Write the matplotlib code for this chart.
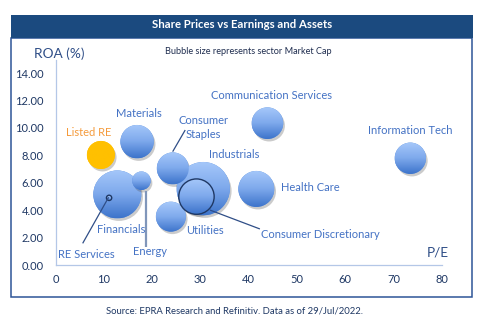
import numpy as np
import matplotlib
matplotlib.use("Agg")
import matplotlib.pyplot as plt
from matplotlib.patches import Ellipse, Rectangle
from matplotlib import patheffects as pe
from matplotlib.colors import LinearSegmentedColormap

# Sector data: P/E ratio, return on assets (%) and market cap (bubble area)
sectors = ["Listed RE", "Materials", "Consumer Staples", "Industrials",
           "Consumer Discretionary", "Financials", "RE Services", "Energy",
           "Utilities", "Health Care", "Communication Services", "Information Tech"]
pe_ratio = [9.4, 16.9, 24.3, 30.6, 29.2, 12.8, 11.1, 17.8, 23.9, 41.6, 43.9, 73.5]
roa = [8.03, 9.0, 7.05, 5.57, 4.99, 5.15, 4.9, 6.15, 3.53, 5.55, 10.35, 7.79]
market_cap = [196, 279, 256, 713, 313, 576, 7, 86, 225, 324, 250, 246]

x_ticks = [0, 10, 20, 30, 40, 50, 60, 70, 80]
y_ticks = [0, 2, 4, 6, 8, 10, 12, 14]

# Label anchor positions (data coordinates) and alignment
label_pos = {
    "Listed RE": (6.94, 9.66, "center"),
    "Materials": (17.3, 11.07, "center"),
    "Consumer Staples": (30.7, 10.04, "center"),
    "Industrials": (37.06, 8.08, "center"),
    "Consumer Discretionary": (42.5, 2.26, "left"),
    "Financials": (13.6, 2.61, "center"),
    "RE Services": (6.3, 0.8, "center"),
    "Energy": (19.57, 0.95, "center"),
    "Utilities": (31.05, 2.5, "center"),
    "Health Care": (46.75, 5.67, "left"),
    "Communication Services": (44.8, 12.34, "center"),
    "Information Tech": (73.46, 9.78, "center"),
}
label_text = {"Consumer Staples": "Consumer\nStaples"}

# Leader lines from bubble to label
leaders = {
    "RE Services": ((11.0, 4.94), (5.63, 1.58)),
    "Energy": ((18.67, 5.42), (18.67, 1.34)),
    "Consumer Staples": ((24.27, 8.27), (26.87, 9.85)),
    "Consumer Discretionary": ((31.99, 4.01), (42.34, 2.63)),
}

W, H, DPI = 483, 326, 100
fig = plt.figure(figsize=(W / DPI, H / DPI), dpi=DPI)
fig.patch.set_facecolor("white")

font = ["Lato", "DejaVu Sans"]
navy = "#1F3864"
label_blue = "#4472C4"

# Outer frame and header band
fig.patches.append(Rectangle((11 / W, 1 - 297 / H), 461 / W, (297 - 38) / H,
                             transform=fig.transFigure, fill=False,
                             edgecolor="#2E5597", linewidth=1.1))
fig.patches.append(Rectangle((11 / W, 1 - 38 / H), 462 / W, 23 / H,
                             transform=fig.transFigure, facecolor="#1B4A7F",
                             edgecolor="none"))
fig.text(241.7 / W, 1 - 25 / H, "Share Prices vs Earnings and Assets",
         ha="center", va="center", color="white", fontsize=8.2,
         fontweight="bold", family=font)
fig.text(248.7 / W, 1 - 51 / H, "Bubble size represents sector Market Cap",
         ha="center", va="center", color="#1F2D4F", fontsize=6.6, family=font)
fig.text(234 / W, 1 - 311.5 / H,
         "Source: EPRA Research and Refinitiv. Data as of 29/Jul/2022.",
         ha="center", va="center", color=navy, fontsize=6.8, family=font)

ax = fig.add_axes([55.5 / W, 1 - 265 / H, (441.7 - 55.5) / W, (265 - 60) / H])
ax.set_facecolor("none")
XMAX, YMAX = 80, 14.96
ax.set_xlim(0, XMAX)
ax.set_ylim(0, YMAX)

for s in ["top", "right"]:
    ax.spines[s].set_visible(False)
for s in ["left", "bottom"]:
    ax.spines[s].set_color("#B4C7E7")
    ax.spines[s].set_linewidth(0.9)

ax.set_xticks(x_ticks)
ax.set_yticks(y_ticks)
ax.set_xticklabels([str(v) for v in x_ticks], family=font, fontsize=8, color=navy)
ax.set_yticklabels([f"{v:.2f}" for v in y_ticks], family=font, fontsize=8, color=navy)
ax.tick_params(axis="x", length=0, pad=6.5)
ax.tick_params(axis="y", length=0, pad=8.5)

fig.text(59.5 / W, 1 - 53.5 / H, "ROA (%)", ha="center", va="center",
         color="#2F4E87", fontsize=9.8, family=font)
fig.text(437.3 / W, 1 - 252.3 / H, "P/E", ha="center", va="center",
         color="#2F4E87", fontsize=9.8, family=font)

# Pixel scale of the data axes
fig.canvas.draw()
p0 = ax.transData.transform((0, 0))
px_x = ax.transData.transform((1, 0))[0] - p0[0]
px_y = ax.transData.transform((0, 1))[1] - p0[1]

blue_cmap = LinearSegmentedColormap.from_list("bubble", ["#A6C8FA", "#7EA9EC", "#3D74CB"])
gold_cmap = LinearSegmentedColormap.from_list("gold", ["#FFC000", "#FFC000"])
grad = np.linspace(0, 1, 128).reshape(-1, 1)

order = np.argsort(market_cap)[::-1]
for i in order:
    name = sectors[i]
    x, y, cap = pe_ratio[i], roa[i], market_cap[i]
    r_px = np.sqrt(cap) * DPI / 100.0
    w, h = 2 * r_px / px_x, 2 * r_px / px_y
    edge = "none"
    if name in ("Consumer Discretionary", "RE Services"):
        edge = "#1F3864"
    base = Ellipse((x, y), w, h, facecolor="#5B8FDC" if name != "Listed RE" else "#FFC000",
                   edgecolor="none", zorder=2 + (0 if cap > 100 else 2))
    if name != "RE Services":
        base.set_path_effects([pe.SimplePatchShadow(offset=(1.2, -1.8),
                                                    shadow_rgbFace="#555555", alpha=0.3),
                               pe.Normal()])
    ax.add_patch(base)
    cmap = gold_cmap if name == "Listed RE" else blue_cmap
    im = ax.imshow(grad, cmap=cmap, extent=(x - w / 2, x + w / 2, y - h / 2, y + h / 2),
                   origin="upper", aspect="auto", interpolation="bilinear",
                   zorder=base.get_zorder() + 0.1)
    im.set_clip_path(base)
    if edge != "none":
        ax.add_patch(Ellipse((x, y), w, h, facecolor="none", edgecolor=edge,
                             linewidth=1.0, zorder=base.get_zorder() + 0.2))

for name, (a, b) in leaders.items():
    col = "#8096BA" if name == "Energy" else "#2F4E87"
    lw = 1.6 if name == "Energy" else 0.9
    ax.plot([a[0], b[0]], [a[1], b[1]], color=col, linewidth=lw, zorder=6,
            solid_capstyle="butt")

for name in sectors:
    x, y, ha = label_pos[name]
    col = "#F59B3C" if name == "Listed RE" else label_blue
    ax.text(x, y, label_text.get(name, name), ha=ha, va="center",
            multialignment="center", color=col, fontsize=8, family=font,
            linespacing=1.35, zorder=7)

ax.set_xlim(0, XMAX)
ax.set_ylim(0, YMAX)
fig.savefig("out.png", dpi=DPI)
